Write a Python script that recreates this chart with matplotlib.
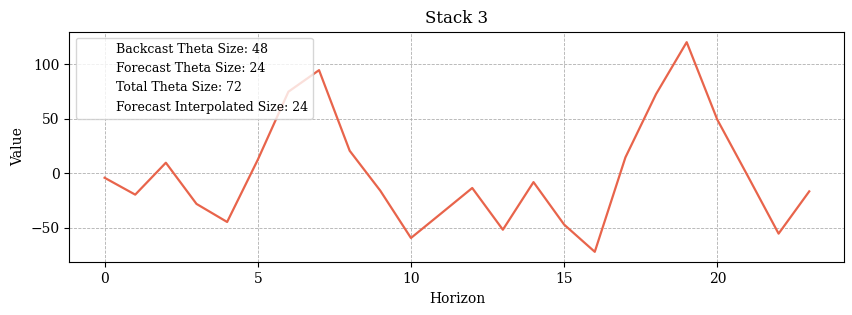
import matplotlib
matplotlib.use("Agg")
import matplotlib.pyplot as plt

plt.rcParams['font.family'] = 'DejaVu Serif'

horizon = list(range(24))
values = [-4, -19.5, 9.8, -28, -44.6, 12.5, 75, 94.8, 20.8, -15.9, -59.3, -36.4,
          -13.4, -51.7, -8, -47, -72, 14.7, 72.8, 120.5, 49.3, -2.7, -55.3, -16.5]
info = ["Backcast Theta Size: 48", "Forecast Theta Size: 24",
        "Total Theta Size: 72", "Forecast Interpolated Size: 24"]

fig = plt.figure(figsize=(8.53, 3.15), dpi=100)
ax = fig.add_subplot(111)
ax.plot(horizon, values, color="#e8644b", linewidth=1.6)
# empty handles so only the text shows in the legend
for t in info:
    ax.plot([], [], ' ', label=t)
ax.legend(loc="upper left", fontsize=9)
ax.grid(True, linestyle="--", linewidth=0.6, color="#b0b0b0")
ax.set_title("Stack 3")
ax.set_xlabel("Horizon")
ax.set_ylabel("Value")
fig.subplots_adjust(left=0.0813, right=0.990, top=0.8994, bottom=0.1673)
fig.savefig("out.png", dpi=100)
